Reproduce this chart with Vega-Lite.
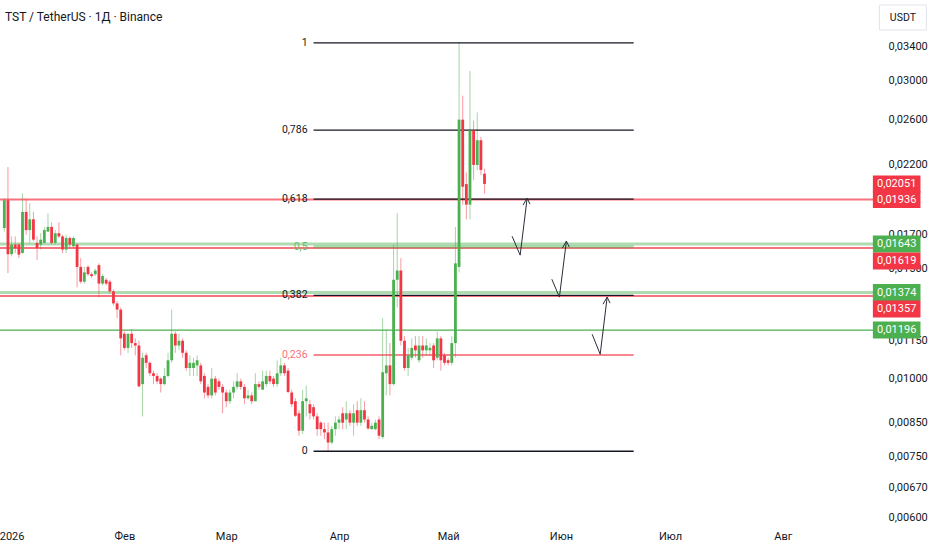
{
  "$schema": "https://vega.github.io/schema/vega-lite/v6.json",
  "width": 875,
  "height": 522,
  "autosize": {"type": "none"},
  "padding": {"left": 0, "top": 0, "right": 57, "bottom": 28},
  "background": "#ffffff",
  "title": {
    "text": "TST / TetherUS · 1Д · Binance",
    "anchor": "start",
    "frame": "group",
    "offset": -24,
    "dx": 5,
    "fontSize": 12,
    "fontWeight": "normal",
    "color": "#131722"
  },
  "datasets": {
    "candles": [
      {"date": "2025-12-30", "open": 0.01743, "high": 0.01945, "low": 0.01720, "close": 0.01932},
      {"date": "2025-12-31", "open": 0.01932, "high": 0.02183, "low": 0.01476, "close": 0.01583},
      {"date": "2026-01-01", "open": 0.01583, "high": 0.01690, "low": 0.01570, "close": 0.01640},
      {"date": "2026-01-02", "open": 0.01640, "high": 0.01690, "low": 0.01590, "close": 0.01620},
      {"date": "2026-01-03", "open": 0.01640, "high": 0.01650, "low": 0.01560, "close": 0.01580},
      {"date": "2026-01-04", "open": 0.01590, "high": 0.01980, "low": 0.01585, "close": 0.01850},
      {"date": "2026-01-05", "open": 0.01850, "high": 0.01940, "low": 0.01700, "close": 0.01730},
      {"date": "2026-01-06", "open": 0.01730, "high": 0.01910, "low": 0.01650, "close": 0.01800},
      {"date": "2026-01-07", "open": 0.01800, "high": 0.01850, "low": 0.01660, "close": 0.01670},
      {"date": "2026-01-08", "open": 0.01650, "high": 0.01690, "low": 0.01550, "close": 0.01620},
      {"date": "2026-01-09", "open": 0.01640, "high": 0.01710, "low": 0.01610, "close": 0.01670},
      {"date": "2026-01-10", "open": 0.01650, "high": 0.01750, "low": 0.01650, "close": 0.01730},
      {"date": "2026-01-11", "open": 0.01720, "high": 0.01840, "low": 0.01720, "close": 0.01750},
      {"date": "2026-01-12", "open": 0.01750, "high": 0.01780, "low": 0.01640, "close": 0.01650},
      {"date": "2026-01-13", "open": 0.01650, "high": 0.01730, "low": 0.01640, "close": 0.01710},
      {"date": "2026-01-14", "open": 0.01710, "high": 0.01780, "low": 0.01680, "close": 0.01690},
      {"date": "2026-01-15", "open": 0.01690, "high": 0.01700, "low": 0.01590, "close": 0.01610},
      {"date": "2026-01-16", "open": 0.01610, "high": 0.01700, "low": 0.01590, "close": 0.01680},
      {"date": "2026-01-17", "open": 0.01680, "high": 0.01690, "low": 0.01620, "close": 0.01640},
      {"date": "2026-01-18", "open": 0.01630, "high": 0.01690, "low": 0.01620, "close": 0.01680},
      {"date": "2026-01-19", "open": 0.01640, "high": 0.01645, "low": 0.01400, "close": 0.01510},
      {"date": "2026-01-20", "open": 0.01510, "high": 0.01560, "low": 0.01420, "close": 0.01430},
      {"date": "2026-01-21", "open": 0.01430, "high": 0.01510, "low": 0.01420, "close": 0.01480},
      {"date": "2026-01-22", "open": 0.01510, "high": 0.01520, "low": 0.01460, "close": 0.01470},
      {"date": "2026-01-23", "open": 0.01470, "high": 0.01480, "low": 0.01450, "close": 0.01460},
      {"date": "2026-01-24", "open": 0.01470, "high": 0.01500, "low": 0.01460, "close": 0.01490},
      {"date": "2026-01-25", "open": 0.01520, "high": 0.01530, "low": 0.01350, "close": 0.01420},
      {"date": "2026-01-26", "open": 0.01420, "high": 0.01470, "low": 0.01410, "close": 0.01460},
      {"date": "2026-01-27", "open": 0.01440, "high": 0.01450, "low": 0.01410, "close": 0.01420},
      {"date": "2026-01-28", "open": 0.01430, "high": 0.01440, "low": 0.01370, "close": 0.01380},
      {"date": "2026-01-29", "open": 0.01380, "high": 0.01390, "low": 0.01310, "close": 0.01320},
      {"date": "2026-01-30", "open": 0.01320, "high": 0.01330, "low": 0.01250, "close": 0.01290},
      {"date": "2026-01-31", "open": 0.01290, "high": 0.01300, "low": 0.01090, "close": 0.01160},
      {"date": "2026-02-01", "open": 0.01180, "high": 0.01190, "low": 0.01110, "close": 0.01120},
      {"date": "2026-02-02", "open": 0.01120, "high": 0.01180, "low": 0.01100, "close": 0.01180},
      {"date": "2026-02-03", "open": 0.01180, "high": 0.01200, "low": 0.01120, "close": 0.01140},
      {"date": "2026-02-04", "open": 0.01140, "high": 0.01160, "low": 0.01090, "close": 0.01130},
      {"date": "2026-02-05", "open": 0.01130, "high": 0.01150, "low": 0.00968, "close": 0.00972},
      {"date": "2026-02-06", "open": 0.00980, "high": 0.01100, "low": 0.00870, "close": 0.01080},
      {"date": "2026-02-07", "open": 0.01090, "high": 0.01100, "low": 0.01040, "close": 0.01060},
      {"date": "2026-02-08", "open": 0.01060, "high": 0.01065, "low": 0.01010, "close": 0.01020},
      {"date": "2026-02-09", "open": 0.01020, "high": 0.01030, "low": 0.00980, "close": 0.01010},
      {"date": "2026-02-10", "open": 0.01010, "high": 0.01020, "low": 0.00980, "close": 0.00990},
      {"date": "2026-02-11", "open": 0.01000, "high": 0.01005, "low": 0.00950, "close": 0.00980},
      {"date": "2026-02-12", "open": 0.00980, "high": 0.01040, "low": 0.00975, "close": 0.01010},
      {"date": "2026-02-13", "open": 0.01010, "high": 0.01100, "low": 0.01005, "close": 0.01070},
      {"date": "2026-02-14", "open": 0.01070, "high": 0.01290, "low": 0.01060, "close": 0.01180},
      {"date": "2026-02-15", "open": 0.01180, "high": 0.01190, "low": 0.01100, "close": 0.01130},
      {"date": "2026-02-16", "open": 0.01130, "high": 0.01180, "low": 0.01110, "close": 0.01150},
      {"date": "2026-02-17", "open": 0.01150, "high": 0.01160, "low": 0.01080, "close": 0.01100},
      {"date": "2026-02-18", "open": 0.01100, "high": 0.01110, "low": 0.01030, "close": 0.01040},
      {"date": "2026-02-19", "open": 0.01040, "high": 0.01090, "low": 0.01010, "close": 0.01060},
      {"date": "2026-02-20", "open": 0.01040, "high": 0.01080, "low": 0.01010, "close": 0.01060},
      {"date": "2026-02-21", "open": 0.01050, "high": 0.01090, "low": 0.01010, "close": 0.01070},
      {"date": "2026-02-22", "open": 0.01050, "high": 0.01060, "low": 0.00980, "close": 0.00990},
      {"date": "2026-02-23", "open": 0.01010, "high": 0.01020, "low": 0.00930, "close": 0.00950},
      {"date": "2026-02-24", "open": 0.00970, "high": 0.00980, "low": 0.00930, "close": 0.00940},
      {"date": "2026-02-25", "open": 0.00940, "high": 0.01040, "low": 0.00930, "close": 0.01000},
      {"date": "2026-02-26", "open": 0.01000, "high": 0.01010, "low": 0.00940, "close": 0.00950},
      {"date": "2026-02-27", "open": 0.00990, "high": 0.01000, "low": 0.00960, "close": 0.00970},
      {"date": "2026-02-28", "open": 0.00970, "high": 0.00980, "low": 0.00880, "close": 0.00950},
      {"date": "2026-03-01", "open": 0.00950, "high": 0.00960, "low": 0.00900, "close": 0.00920},
      {"date": "2026-03-02", "open": 0.00920, "high": 0.00960, "low": 0.00910, "close": 0.00950},
      {"date": "2026-03-03", "open": 0.00950, "high": 0.00990, "low": 0.00930, "close": 0.00970},
      {"date": "2026-03-04", "open": 0.00970, "high": 0.01020, "low": 0.00960, "close": 0.00990},
      {"date": "2026-03-05", "open": 0.00990, "high": 0.01000, "low": 0.00960, "close": 0.00970},
      {"date": "2026-03-06", "open": 0.00970, "high": 0.00980, "low": 0.00910, "close": 0.00930},
      {"date": "2026-03-07", "open": 0.00930, "high": 0.00960, "low": 0.00925, "close": 0.00940},
      {"date": "2026-03-08", "open": 0.00940, "high": 0.00950, "low": 0.00910, "close": 0.00920},
      {"date": "2026-03-09", "open": 0.00920, "high": 0.01020, "low": 0.00920, "close": 0.00980},
      {"date": "2026-03-10", "open": 0.00980, "high": 0.00990, "low": 0.00960, "close": 0.00970},
      {"date": "2026-03-11", "open": 0.00960, "high": 0.01030, "low": 0.00960, "close": 0.00990},
      {"date": "2026-03-12", "open": 0.00980, "high": 0.01030, "low": 0.00970, "close": 0.01010},
      {"date": "2026-03-13", "open": 0.01010, "high": 0.01030, "low": 0.00980, "close": 0.00990},
      {"date": "2026-03-14", "open": 0.01000, "high": 0.01010, "low": 0.00970, "close": 0.00980},
      {"date": "2026-03-15", "open": 0.00980, "high": 0.01070, "low": 0.00970, "close": 0.01020},
      {"date": "2026-03-16", "open": 0.01020, "high": 0.01080, "low": 0.01010, "close": 0.01050},
      {"date": "2026-03-17", "open": 0.01050, "high": 0.01060, "low": 0.01010, "close": 0.01020},
      {"date": "2026-03-18", "open": 0.01030, "high": 0.01040, "low": 0.00948, "close": 0.00952},
      {"date": "2026-03-19", "open": 0.00950, "high": 0.00960, "low": 0.00900, "close": 0.00910},
      {"date": "2026-03-20", "open": 0.00920, "high": 0.00930, "low": 0.00868, "close": 0.00872},
      {"date": "2026-03-21", "open": 0.00880, "high": 0.00890, "low": 0.00810, "close": 0.00825},
      {"date": "2026-03-22", "open": 0.00825, "high": 0.00960, "low": 0.00815, "close": 0.00920},
      {"date": "2026-03-23", "open": 0.00920, "high": 0.00975, "low": 0.00870, "close": 0.00930},
      {"date": "2026-03-24", "open": 0.00910, "high": 0.00925, "low": 0.00860, "close": 0.00880},
      {"date": "2026-03-25", "open": 0.00900, "high": 0.00910, "low": 0.00860, "close": 0.00870},
      {"date": "2026-03-26", "open": 0.00870, "high": 0.00880, "low": 0.00810, "close": 0.00830},
      {"date": "2026-03-27", "open": 0.00850, "high": 0.00855, "low": 0.00810, "close": 0.00830},
      {"date": "2026-03-28", "open": 0.00830, "high": 0.00850, "low": 0.00800, "close": 0.00820},
      {"date": "2026-03-29", "open": 0.00820, "high": 0.00850, "low": 0.00766, "close": 0.00790},
      {"date": "2026-03-30", "open": 0.00790, "high": 0.00840, "low": 0.00785, "close": 0.00830},
      {"date": "2026-03-31", "open": 0.00830, "high": 0.00870, "low": 0.00810, "close": 0.00850},
      {"date": "2026-04-01", "open": 0.00850, "high": 0.00870, "low": 0.00830, "close": 0.00860},
      {"date": "2026-04-02", "open": 0.00880, "high": 0.00900, "low": 0.00830, "close": 0.00850},
      {"date": "2026-04-03", "open": 0.00860, "high": 0.00920, "low": 0.00830, "close": 0.00880},
      {"date": "2026-04-04", "open": 0.00880, "high": 0.00890, "low": 0.00840, "close": 0.00850},
      {"date": "2026-04-05", "open": 0.00850, "high": 0.00910, "low": 0.00810, "close": 0.00880},
      {"date": "2026-04-06", "open": 0.00890, "high": 0.00920, "low": 0.00840, "close": 0.00850},
      {"date": "2026-04-07", "open": 0.00850, "high": 0.00930, "low": 0.00840, "close": 0.00890},
      {"date": "2026-04-08", "open": 0.00890, "high": 0.00920, "low": 0.00850, "close": 0.00860},
      {"date": "2026-04-09", "open": 0.00860, "high": 0.00870, "low": 0.00828, "close": 0.00832},
      {"date": "2026-04-10", "open": 0.00830, "high": 0.00850, "low": 0.00828, "close": 0.00840},
      {"date": "2026-04-11", "open": 0.00830, "high": 0.00860, "low": 0.00826, "close": 0.00850},
      {"date": "2026-04-12", "open": 0.00860, "high": 0.00870, "low": 0.00800, "close": 0.00810},
      {"date": "2026-04-13", "open": 0.00806, "high": 0.01250, "low": 0.00800, "close": 0.01024},
      {"date": "2026-04-14", "open": 0.01020, "high": 0.01200, "low": 0.00940, "close": 0.01050},
      {"date": "2026-04-15", "open": 0.01050, "high": 0.01140, "low": 0.00940, "close": 0.00980},
      {"date": "2026-04-16", "open": 0.00980, "high": 0.01640, "low": 0.00975, "close": 0.01440},
      {"date": "2026-04-17", "open": 0.01440, "high": 0.01840, "low": 0.01300, "close": 0.01490},
      {"date": "2026-04-18", "open": 0.01490, "high": 0.01560, "low": 0.01130, "close": 0.01150},
      {"date": "2026-04-19", "open": 0.01150, "high": 0.01170, "low": 0.01030, "close": 0.01040},
      {"date": "2026-04-20", "open": 0.01040, "high": 0.01120, "low": 0.01010, "close": 0.01090},
      {"date": "2026-04-21", "open": 0.01080, "high": 0.01160, "low": 0.01070, "close": 0.01120},
      {"date": "2026-04-22", "open": 0.01130, "high": 0.01170, "low": 0.01080, "close": 0.01110},
      {"date": "2026-04-23", "open": 0.01070, "high": 0.01170, "low": 0.01060, "close": 0.01130},
      {"date": "2026-04-24", "open": 0.01130, "high": 0.01170, "low": 0.01080, "close": 0.01110},
      {"date": "2026-04-25", "open": 0.01110, "high": 0.01160, "low": 0.01090, "close": 0.01130},
      {"date": "2026-04-26", "open": 0.01110, "high": 0.01140, "low": 0.01090, "close": 0.01120},
      {"date": "2026-04-27", "open": 0.01130, "high": 0.01140, "low": 0.01040, "close": 0.01070},
      {"date": "2026-04-28", "open": 0.01080, "high": 0.01190, "low": 0.01070, "close": 0.01160},
      {"date": "2026-04-29", "open": 0.01160, "high": 0.01170, "low": 0.01030, "close": 0.01070},
      {"date": "2026-04-30", "open": 0.01090, "high": 0.01100, "low": 0.01050, "close": 0.01060},
      {"date": "2026-05-01", "open": 0.01070, "high": 0.01080, "low": 0.01050, "close": 0.01060},
      {"date": "2026-05-02", "open": 0.01060, "high": 0.01170, "low": 0.01050, "close": 0.01140},
      {"date": "2026-05-03", "open": 0.01140, "high": 0.01750, "low": 0.01080, "close": 0.01530},
      {"date": "2026-05-04", "open": 0.01510, "high": 0.03460, "low": 0.01480, "close": 0.02600},
      {"date": "2026-05-05", "open": 0.02600, "high": 0.02840, "low": 0.01900, "close": 0.02030},
      {"date": "2026-05-06", "open": 0.02050, "high": 0.02140, "low": 0.01800, "close": 0.01900},
      {"date": "2026-05-07", "open": 0.01900, "high": 0.03110, "low": 0.01800, "close": 0.02500},
      {"date": "2026-05-08", "open": 0.02500, "high": 0.02590, "low": 0.02080, "close": 0.02200},
      {"date": "2026-05-09", "open": 0.02200, "high": 0.02670, "low": 0.02160, "close": 0.02410},
      {"date": "2026-05-10", "open": 0.02410, "high": 0.02440, "low": 0.02120, "close": 0.02160},
      {"date": "2026-05-11", "open": 0.02130, "high": 0.02170, "low": 0.01980, "close": 0.02051}
    ],
    "levels": [
      {"price": 0.01936, "kind": "resistance"},
      {"price": 0.01643, "kind": "support zone"},
      {"price": 0.01619, "kind": "resistance"},
      {"price": 0.01374, "kind": "support zone"},
      {"price": 0.01357, "kind": "resistance"},
      {"price": 0.01196, "kind": "support"}
    ],
    "tags": [
      {"price": 0.02051, "label": "0,02051", "kind": "current"},
      {"price": 0.01936, "label": "0,01936", "kind": "resistance"},
      {"price": 0.01643, "label": "0,01643", "kind": "support"},
      {"price": 0.01619, "label": "0,01619", "kind": "resistance"},
      {"price": 0.01374, "label": "0,01374", "kind": "support"},
      {"price": 0.01357, "label": "0,01357", "kind": "resistance"},
      {"price": 0.01196, "label": "0,01196", "kind": "support"}
    ],
    "fib": [
      {"level": "1", "price": 0.03451, "start": "2026-03-25", "end": "2026-06-21"},
      {"level": "0,786", "price": 0.02501, "start": "2026-03-25", "end": "2026-06-21"},
      {"level": "0,618", "price": 0.01939, "start": "2026-03-25", "end": "2026-06-21"},
      {"level": "0,5", "price": 0.01626, "start": "2026-03-25", "end": "2026-06-21"},
      {"level": "0,382", "price": 0.01360, "start": "2026-03-25", "end": "2026-06-21"},
      {"level": "0,236", "price": 0.01091, "start": "2026-03-25", "end": "2026-06-21"},
      {"level": "0", "price": 0.00765, "start": "2026-03-25", "end": "2026-06-21"}
    ],
    "arrows": [
      {"path": "a1", "seq": 1, "date": "2026-05-18T14:00:00Z", "price": 0.01691},
      {"path": "a1", "seq": 2, "date": "2026-05-20T19:00:00Z", "price": 0.01577},
      {"path": "a1", "seq": 3, "date": "2026-05-22T17:00:00Z", "price": 0.01946},
      {"path": "a1h", "seq": 1, "date": "2026-05-21T14:00:00Z", "price": 0.01897},
      {"path": "a1h", "seq": 2, "date": "2026-05-22T17:00:00Z", "price": 0.01946},
      {"path": "a1h", "seq": 3, "date": "2026-05-23T12:00:00Z", "price": 0.01904},
      {"path": "a2", "seq": 1, "date": "2026-05-29T12:00:00Z", "price": 0.01443},
      {"path": "a2", "seq": 2, "date": "2026-05-31T14:00:00Z", "price": 0.01351},
      {"path": "a2", "seq": 3, "date": "2026-06-02T12:00:00Z", "price": 0.01661},
      {"path": "a2h", "seq": 1, "date": "2026-06-01T10:00:00Z", "price": 0.01619},
      {"path": "a2h", "seq": 2, "date": "2026-06-02T12:00:00Z", "price": 0.01661},
      {"path": "a2h", "seq": 3, "date": "2026-06-03T07:00:00Z", "price": 0.01625},
      {"path": "a3", "seq": 1, "date": "2026-06-09T14:00:00Z", "price": 0.01178},
      {"path": "a3", "seq": 2, "date": "2026-06-11T19:00:00Z", "price": 0.01094},
      {"path": "a3", "seq": 3, "date": "2026-06-13T17:00:00Z", "price": 0.01351},
      {"path": "a3h", "seq": 1, "date": "2026-06-12T14:00:00Z", "price": 0.01316},
      {"path": "a3h", "seq": 2, "date": "2026-06-13T17:00:00Z", "price": 0.01351},
      {"path": "a3h", "seq": 3, "date": "2026-06-14T12:00:00Z", "price": 0.01321}
    ]
  },
  "layer": [
    {
      "data": {"name": "candles"},
      "mark": {"type": "rule", "strokeWidth": 1, "opacity": 0.5},
      "encoding": {
        "x": {
          "field": "date",
          "type": "temporal",
          "scale": {
            "type": "utc",
            "domain": [
              {"year": 2025, "month": 12, "date": 30, "hours": 4, "minutes": 26, "utc": true},
              {"year": 2026, "month": 8, "date": 24, "hours": 23, "utc": true}
            ]
          },
          "axis": {
            "values": [
              {"year": 2026, "month": 1, "date": 1, "utc": true},
              {"year": 2026, "month": 2, "date": 1, "utc": true},
              {"year": 2026, "month": 3, "date": 1, "utc": true},
              {"year": 2026, "month": 4, "date": 1, "utc": true},
              {"year": 2026, "month": 5, "date": 1, "utc": true},
              {"year": 2026, "month": 6, "date": 1, "utc": true},
              {"year": 2026, "month": 7, "date": 1, "utc": true},
              {"year": 2026, "month": 8, "date": 1, "utc": true}
            ],
            "labelExpr": "['2026','Фев','Мар','Апр','Май','Июн','Июл','Авг','Сен'][utcmonth(datum.value)]",
            "labelFlush": false,
            "labelOverlap": false,
            "ticks": false,
            "domain": false,
            "grid": false,
            "labelPadding": 8,
            "labelFontSize": 11,
            "labelColor": "#131722",
            "title": null
          }
        },
        "y": {
          "field": "low",
          "type": "quantitative",
          "scale": {"type": "log", "domain": [0.005892, 0.04043], "nice": false},
          "axis": {
            "orient": "right",
            "values": [0.034, 0.03, 0.026, 0.022, 0.017, 0.015, 0.0115, 0.01, 0.0085, 0.0075, 0.0067, 0.006],
            "labelExpr": "replace(format(datum.value, '.5f'), '.', ',')",
            "ticks": false,
            "domain": false,
            "grid": false,
            "labelPadding": 13,
            "labelFontSize": 11,
            "labelColor": "#131722",
            "title": null
          }
        },
        "y2": {"field": "high"},
        "color": {
          "condition": {"test": "datum.close >= datum.open", "value": "#4caf50"},
          "value": "#f23645"
        }
      }
    },
    {
      "data": {"name": "levels"},
      "transform": [{"filter": "datum.kind == 'resistance'"}],
      "mark": {"type": "rule", "color": "#f23645", "opacity": 0.7, "strokeWidth": 2},
      "encoding": {"y": {"field": "price", "type": "quantitative"}}
    },
    {
      "data": {"name": "levels"},
      "transform": [{"filter": "datum.kind == 'support zone'"}],
      "mark": {"type": "rule", "color": "#4caf50", "opacity": 0.45, "strokeWidth": 3},
      "encoding": {"y": {"field": "price", "type": "quantitative"}}
    },
    {
      "data": {"name": "levels"},
      "transform": [{"filter": "datum.kind == 'support'"}],
      "mark": {"type": "rule", "color": "#4caf50", "strokeWidth": 1.2},
      "encoding": {"y": {"field": "price", "type": "quantitative"}}
    },
    {
      "data": {"name": "fib"},
      "transform": [{"filter": "datum.level != '0,5' && datum.level != '0,236'"}],
      "mark": {"type": "rule", "color": "#131722", "strokeWidth": 1.3},
      "encoding": {
        "x": {"field": "start", "type": "temporal"},
        "x2": {"field": "end"},
        "y": {"field": "price", "type": "quantitative"}
      }
    },
    {
      "data": {"name": "fib"},
      "transform": [{"filter": "datum.level == '0,5'"}],
      "mark": {"type": "rule", "color": "#4caf50", "opacity": 0.45, "strokeWidth": 3},
      "encoding": {
        "x": {"field": "start", "type": "temporal"},
        "x2": {"field": "end"},
        "y": {"field": "price", "type": "quantitative"}
      }
    },
    {
      "data": {"name": "fib"},
      "transform": [{"filter": "datum.level == '0,236'"}],
      "mark": {"type": "rule", "color": "#f23645", "opacity": 0.6, "strokeWidth": 2},
      "encoding": {
        "x": {"field": "start", "type": "temporal"},
        "x2": {"field": "end"},
        "y": {"field": "price", "type": "quantitative"}
      }
    },
    {
      "data": {"name": "fib"},
      "mark": {"type": "text", "align": "right", "baseline": "middle", "dx": -6, "fontSize": 10.5},
      "encoding": {
        "x": {"field": "start", "type": "temporal"},
        "y": {"field": "price", "type": "quantitative"},
        "text": {"field": "level"},
        "color": {
          "field": "level",
          "type": "nominal",
          "scale": {
            "domain": ["1", "0,786", "0,618", "0,5", "0,382", "0,236", "0"],
            "range": ["#131722", "#131722", "#131722", "#66bb6a", "#131722", "#f7707b", "#131722"]
          },
          "legend": null
        }
      }
    },
    {
      "data": {"name": "candles"},
      "mark": {"type": "bar", "size": 2.8},
      "encoding": {
        "x": {"field": "date", "type": "temporal"},
        "y": {"field": "open", "type": "quantitative"},
        "y2": {"field": "close"},
        "color": {
          "condition": {"test": "datum.close >= datum.open", "value": "#4caf50"},
          "value": "#f23645"
        }
      }
    },
    {
      "data": {"name": "arrows"},
      "mark": {"type": "line", "strokeWidth": 1, "color": "#2a2e39"},
      "encoding": {
        "x": {"field": "date", "type": "temporal"},
        "y": {"field": "price", "type": "quantitative"},
        "detail": {"field": "path"},
        "order": {"field": "seq"}
      }
    },
    {
      "data": {"name": "tags"},
      "transform": [{"filter": "datum.price != 0.01619 && datum.price != 0.01357"}],
      "layer": [
        {
          "mark": {"type": "point", "shape": "M-2.8,-1H2.8V1H-2.8Z", "size": 289, "filled": true, "opacity": 1, "strokeWidth": 0},
          "encoding": {
            "x": {"datum": {"year": 2026, "month": 9, "date": 1, "hours": 7, "utc": true}, "type": "temporal"},
            "y": {"field": "price", "type": "quantitative"},
            "color": {
              "field": "kind",
              "type": "nominal",
              "scale": {"domain": ["current", "resistance", "support"], "range": ["#f23645", "#f23645", "#4caf50"]},
              "legend": null
            }
          }
        },
        {
          "mark": {"type": "text", "color": "#ffffff", "fontSize": 11, "align": "center", "baseline": "middle"},
          "encoding": {
            "x": {"datum": {"year": 2026, "month": 9, "date": 1, "hours": 7, "utc": true}, "type": "temporal"},
            "y": {"field": "price", "type": "quantitative"},
            "text": {"field": "label"}
          }
        }
      ]
    },
    {
      "data": {"name": "tags"},
      "transform": [{"filter": "datum.price == 0.01619 || datum.price == 0.01357"}],
      "layer": [
        {
          "mark": {"type": "point", "shape": "M-2.8,-1H2.8V1H-2.8Z", "size": 289, "filled": true, "opacity": 1, "strokeWidth": 0, "yOffset": 13},
          "encoding": {
            "x": {"datum": {"year": 2026, "month": 9, "date": 1, "hours": 7, "utc": true}, "type": "temporal"},
            "y": {"field": "price", "type": "quantitative"},
            "color": {
              "field": "kind",
              "type": "nominal",
              "scale": {"domain": ["current", "resistance", "support"], "range": ["#f23645", "#f23645", "#4caf50"]},
              "legend": null
            }
          }
        },
        {
          "mark": {"type": "text", "color": "#ffffff", "fontSize": 11, "align": "center", "baseline": "middle", "yOffset": 13},
          "encoding": {
            "x": {"datum": {"year": 2026, "month": 9, "date": 1, "hours": 7, "utc": true}, "type": "temporal"},
            "y": {"field": "price", "type": "quantitative"},
            "text": {"field": "label"}
          }
        }
      ]
    },
    {
      "data": {"values": [{"unit": "USDT"}]},
      "layer": [
        {
          "mark": {"type": "point", "shape": "M-1.88,-1H1.88V1H-1.88Z", "size": 625, "filled": true, "fill": "#ffffff", "stroke": "#e0e3eb", "strokeWidth": 1, "opacity": 1},
          "encoding": {
            "x": {"datum": {"year": 2026, "month": 9, "date": 3, "hours": 0, "utc": true}, "type": "temporal"},
            "y": {"datum": 0.0379, "type": "quantitative"}
          }
        },
        {
          "mark": {"type": "text", "fontSize": 10.5, "color": "#131722", "align": "center", "baseline": "middle"},
          "encoding": {
            "x": {"datum": {"year": 2026, "month": 9, "date": 3, "hours": 0, "utc": true}, "type": "temporal"},
            "y": {"datum": 0.0379, "type": "quantitative"},
            "text": {"field": "unit"}
          }
        }
      ]
    }
  ],
  "resolve": {"scale": {"color": "independent"}},
  "config": {
    "font": "Roboto",
    "view": {"stroke": null}
  }
}
